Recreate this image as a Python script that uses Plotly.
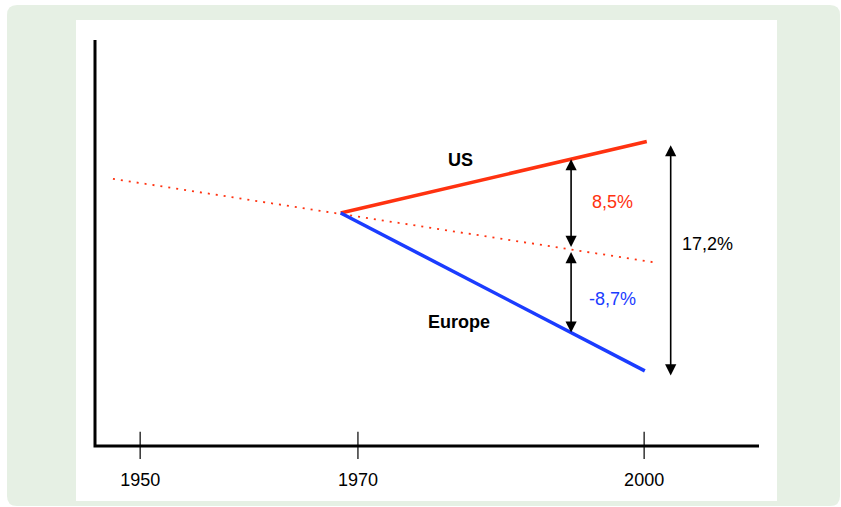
import numpy as np
import plotly.graph_objects as go

# ---- data (schematic units: x = time position, y = index level) ----
year_labels = ["1950", "1970", "2000"]
year_pos = [6.8, 39.6, 82.7]

trend_x = [2.7, 84.0]          # pre-1970 trend, extended to 2000
trend_y = [65.8, 45.3]
us_x = [37.0, 83.1]
us_y = [57.4, 75.0]
eu_x = [37.0, 82.8]
eu_y = [57.4, 18.5]

gap_us = 8.5                   # US vs trend (%)
gap_eu = -8.7                  # Europe vs trend (%)
gap_total = 17.2               # US vs Europe (%)
gap_x = 71.7                   # where the two partial gaps are measured
total_x = 86.7                 # where the total gap is measured
total_span = [74.1, 17.0]

# ---- page geometry (pixels) ----
W, H = 841, 507
PL, PR, PT, PB = 80, 790, 30, 464      # plot area box
X0_PX, Y0_PX = 95, 446                 # origin of the drawn axes
SX, SY = 6.64, 4.06                    # pixels per unit

x_range = [(PL - X0_PX) / SX, (PR - X0_PX) / SX]
y_range = [(Y0_PX - PB) / SY, (Y0_PX - PT) / SY]


def px(xp):
    return (xp - PL) / (PR - PL)


def py(yp):
    return (PB - yp) / (PB - PT)


def fmt(v):
    return f"{v:.1f}".replace(".", ",") + "%"


FONT = "Liberation Sans, Arial, Helvetica, sans-serif"
RED = "#ff3210"
BLUE = "#1b3cff"

fig = go.Figure()

# axes drawn as an L-shaped line
fig.add_trace(go.Scatter(
    x=[0, 0, 100], y=[100, 0, 0], mode="lines",
    line=dict(color="black", width=3), hoverinfo="skip", showlegend=False))

# tick marks crossing the x axis
tx, ty = [], []
for p in year_pos:
    tx += [p, p, None]
    ty += [3.5, -3.2, None]
fig.add_trace(go.Scatter(
    x=tx, y=ty, mode="lines", line=dict(color="black", width=1.2),
    hoverinfo="skip", showlegend=False))

# trend line
fig.add_trace(go.Scatter(
    x=trend_x, y=trend_y, mode="lines",
    line=dict(color=RED, width=1.8, dash="2px,6px"),
    hoverinfo="skip", showlegend=False))

# US and Europe
fig.add_trace(go.Scatter(
    x=us_x, y=us_y, mode="lines", line=dict(color=RED, width=3.5),
    name="US", showlegend=False))
fig.add_trace(go.Scatter(
    x=eu_x, y=eu_y, mode="lines", line=dict(color=BLUE, width=3.5),
    name="Europe", showlegend=False))

# gap arrows
y_us = float(np.interp(gap_x, us_x, us_y))
y_tr = float(np.interp(gap_x, trend_x, trend_y))
y_eu = float(np.interp(gap_x, eu_x, eu_y))

arrow_style = dict(showarrow=True, arrowhead=2, arrowside="end+start",
                   arrowsize=1.4, arrowwidth=1.6, arrowcolor="black",
                   axref="x", ayref="y", xref="x", yref="y", text="",
                   standoff=0, startstandoff=0)
annotations = [
    dict(x=gap_x, y=y_us, ax=gap_x, ay=y_tr + 0.25, **arrow_style),
    dict(x=gap_x, y=y_eu, ax=gap_x, ay=y_tr - 0.25, **arrow_style),
    dict(x=total_x, y=total_span[0], ax=total_x, ay=total_span[1], **arrow_style),
]

text_style = dict(showarrow=False, xref="x", yref="y")
annotations += [
    dict(x=55.0, y=70.4, text="<b>US</b>",
         font=dict(family=FONT, size=18, color="black"), **text_style),
    dict(x=54.8, y=30.5, text="<b>Europe</b>",
         font=dict(family=FONT, size=18, color="black"), **text_style),
    dict(x=78.0, y=60.1, text=fmt(gap_us),
         font=dict(family=FONT, size=18, color=RED), **text_style),
    dict(x=78.0, y=36.2, text=fmt(gap_eu),
         font=dict(family=FONT, size=18, color=BLUE), **text_style),
    dict(x=92.3, y=49.8, text=fmt(gap_total),
         font=dict(family=FONT, size=18, color="black"), **text_style),
]


def rounded_rect(x0, y0, x1, y1, r):
    rx, ry = r / (PR - PL), r / (PB - PT)
    a, b, c, d = px(x0), px(x1), py(y0), py(y1)   # c = top, d = bottom
    return (f"M{a + rx},{c} L{b - rx},{c} Q{b},{c} {b},{c - ry} "
            f"L{b},{d + ry} Q{b},{d} {b - rx},{d} "
            f"L{a + rx},{d} Q{a},{d} {a},{d + ry} "
            f"L{a},{c - ry} Q{a},{c} {a + rx},{c} Z")


shapes = [
    dict(type="path", xref="paper", yref="paper", layer="below",
         path=rounded_rect(7, 5, 840, 506, 10),
         fillcolor="#e6f0e4", line=dict(width=0)),
    dict(type="rect", xref="paper", yref="paper", layer="below",
         x0=px(76), x1=px(777), y0=py(501), y1=py(20),
         fillcolor="white", line=dict(width=0)),
]

fig.update_layout(
    width=W, height=H,
    margin=dict(l=PL, r=W - PR, t=PT, b=H - PB, pad=0),
    paper_bgcolor="white", plot_bgcolor="rgba(0,0,0,0)",
    shapes=shapes, annotations=annotations,
    xaxis=dict(range=x_range, tickvals=year_pos, ticktext=year_labels,
               ticks="", showgrid=False, zeroline=False, showline=False,
               ticklabelstandoff=3,
               tickfont=dict(family=FONT, size=18, color="black"),
               fixedrange=True),
    yaxis=dict(range=y_range, visible=False, fixedrange=True),
    showlegend=False,
)

fig.write_html("out.html")
